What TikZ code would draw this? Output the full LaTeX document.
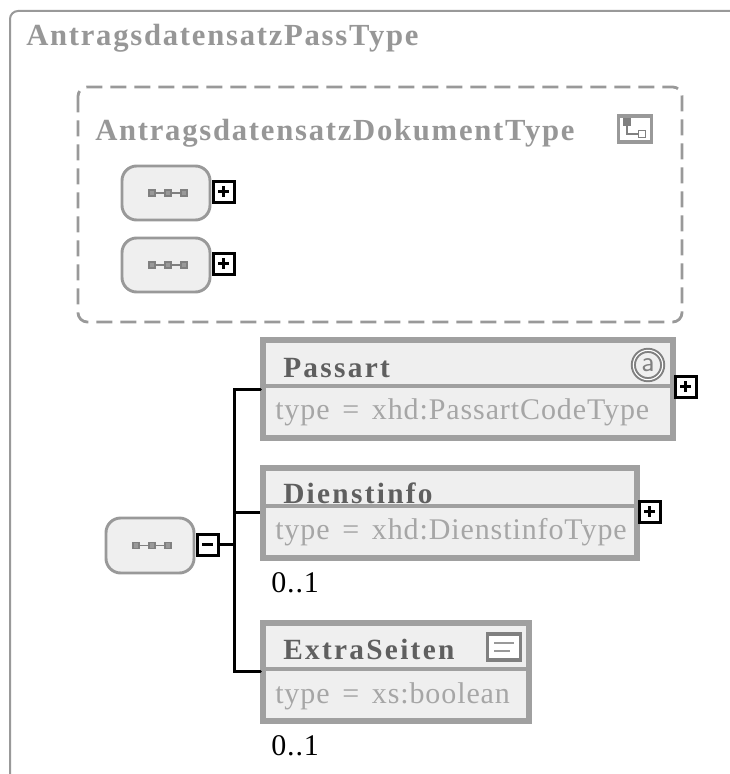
\documentclass[tikz,border=0pt]{standalone}
\usepackage{fontspec}
\setmainfont{Liberation Serif}
\newfontfamily\titlefont[LetterSpace=5.7]{Liberation Serif Bold}
\newfontfamily\elemfont[LetterSpace=7.8]{Liberation Serif Bold}
\newfontfamily\typefont[LetterSpace=3]{Liberation Serif}
\newfontfamily\occfont[LetterSpace=3]{Liberation Serif}
\definecolor{frameg}{HTML}{999999}
\definecolor{fillg}{HTML}{EFEFEF}
\definecolor{borderg}{HTML}{A0A0A0}
\definecolor{titleg}{HTML}{979797}
\definecolor{elemg}{HTML}{5F5F5F}
\definecolor{typeg}{HTML}{A6A6A6}
\definecolor{icong}{HTML}{808080}
\tikzset{
  x=0.75pt,y=-0.75pt,
  outerframe/.style={draw=frameg,line width=1.5pt,rounded corners=6pt},
  dashframe/.style={draw=frameg,line width=2.1pt,rounded corners=7pt,dash pattern=on 12pt off 6pt},
  roundbox/.style={draw=frameg,fill=fillg,line width=2.2pt,rounded corners=11pt,inner sep=0pt},
  elembox/.style={draw=borderg,fill=fillg,line width=3.9pt,inner sep=0pt},
  toggle/.style={draw=black,fill=white,line width=2.25pt,minimum size=14.6pt,inner sep=0pt},
  conn/.style={draw=black,line width=2.25pt},
  divider/.style={draw=borderg,line width=2.4pt},
  titletext/.style={anchor=base west,inner sep=0pt,text=titleg,font=\titlefont\fontsize{23pt}{26pt}\selectfont},
  elemtext/.style={anchor=base west,inner sep=0pt,text=elemg,font=\elemfont\fontsize{22pt}{26pt}\selectfont},
  typetext/.style={anchor=base west,inner sep=0pt,text=typeg,font=\typefont\fontsize{22.5pt}{26pt}\selectfont},
  occ/.style={anchor=base west,inner sep=0pt,text=black,font=\occfont\fontsize{22.5pt}{26pt}\selectfont},
  seqsq/.style={draw=icong,fill=icong!80,line width=1.2pt,minimum size=4.6pt,inner sep=0pt},
  pics/seqicon/.style={code={
    \node[seqsq] (#1a) at (-14,0) {};
    \node[seqsq] (#1b) at (2,0) {};
    \node[seqsq] (#1c) at (18,0) {};
    \draw[icong,line width=1.3pt] (#1a) -- (#1b);
    \draw[icong,line width=1.3pt] (#1b) -- (#1c);
  }},
  pics/plusmark/.style={code={\draw[black,line width=2.25pt] (-5.5,0) -- (5.5,0) (0,-5.5) -- (0,5.5);}},
  pics/minusmark/.style={code={\draw[black,line width=2.25pt] (-5.5,0) -- (5.5,0);}},
}
\newcommand{\boxat}[6]{\node[#2,minimum width={(#5-#3)*0.75pt-1.5pt},minimum height={(#6-#4)*0.75pt-1.5pt}] (#1) at ({(#3+#5)/2},{(#4+#6)/2}) {};}
\newcommand{\typeeq}{type\hspace{3.2pt} = \hspace{3.2pt}}
\begin{document}
\begin{tikzpicture}
\useasboundingbox (0,0) rectangle (729,774);
\path[fill=white] (0,0) rectangle (729,774);
\draw[outerframe] (10,790) -- (10,11) -- (745,11);
\draw[dashframe] (78,87) rectangle (682,322);
\node[titletext] (title) at (26,46) {AntragsdatensatzPassType};
\node[titletext] (doktitle) at (95,140) {AntragsdatensatzDokumentType};
% type icon
\node[draw=frameg,fill=white,line width=2.6pt,minimum width=25pt,minimum height=19.5pt,inner sep=0pt] (typeicon) at (635,129) {};
\node[fill=icong,minimum size=6pt,inner sep=0pt] (tia) at (627,122) {};
\node[draw=icong,fill=white,line width=1.2pt,minimum size=5pt,inner sep=0pt] (tib) at (642,134) {};
\draw[icong,line width=1.6pt] (tia) |- (tib);
% round boxes
\boxat{r1}{roundbox}{121}{165}{211}{221}
\boxat{r2}{roundbox}{121}{237}{211}{293}
\boxat{r3}{roundbox}{105}{517}{195}{574}
\path (r1.center) pic {seqicon=sa};
\path (r2.center) pic {seqicon=sb};
\path (r3.center) pic {seqicon=sc};
\boxat{t1}{toggle}{212}{180}{235}{203}
\boxat{t2}{toggle}{212}{252}{235}{275}
\boxat{t3}{toggle}{196}{533}{219}{556}
\path (t1) pic {plusmark};
\path (t2) pic {plusmark};
\path (t3) pic {minusmark};
% elements
\boxat{e1}{elembox}{262}{339}{674}{439}
\boxat{e2}{elembox}{262}{467}{638}{559}
\boxat{e3}{elembox}{262}{622}{530}{722}
\draw[divider] (e1.west|-0,386) -- (e1.east|-0,386);
\draw[divider] (e2.west|-0,506) -- (e2.east|-0,506);
\draw[divider] (e3.west|-0,669) -- (e3.east|-0,669);
\node[elemtext] (n1) at (283,377) {Passart};
\node[elemtext] (n2) at (283,503) {Dienstinfo};
\node[elemtext] (n3) at (283,659) {ExtraSeiten};
\node[typetext] (y1) at (275,419) {\typeeq xhd:PassartCodeType};
\node[typetext] (y2) at (275,539) {\typeeq xhd:DienstinfoType};
\node[typetext] (y3) at (275,703) {\typeeq xs:boolean};
\node[occ] (o2) at (271,592) {0..1};
\node[occ] (o3) at (271,755) {0..1};
% attribute icon
\node[circle,draw=icong,double=white,double distance=0.8pt,line width=1.5pt,fill=fillg,minimum size=22pt,inner sep=0pt,text=icong,font=\fontsize{22pt}{22pt}\selectfont\sffamily] (aicon) at (648,365) {a};
% doc icon
\node[draw=icong,fill=white,line width=2.6pt,minimum width=24.5pt,minimum height=19.5pt,inner sep=0pt] (docicon) at (504,647) {};
\draw[frameg,line width=1.6pt] (494,643) -- (514,643) (494,651) -- (510,651);
% toggles for elements
\boxat{t4}{toggle}{674}{375}{697}{398}
\boxat{t5}{toggle}{638}{500}{661}{523}
\path (t4) pic {plusmark};
\path (t5) pic {plusmark};
% connectors
\coordinate (bus) at (234,544.5);
\coordinate (bus1) at (bus|-0,389);
\coordinate (bus2) at (bus|-0,512);
\coordinate (bus3) at (bus|-0,671);
\draw[conn,line cap=round] (e1.west|-bus1) -- (bus1) -- (bus3) -- (e3.west|-bus3);
\draw[conn] (bus2) -- (e2.west|-bus2);
\draw[conn] (t3.east|-bus) -- (bus);
\end{tikzpicture}
\end{document}
